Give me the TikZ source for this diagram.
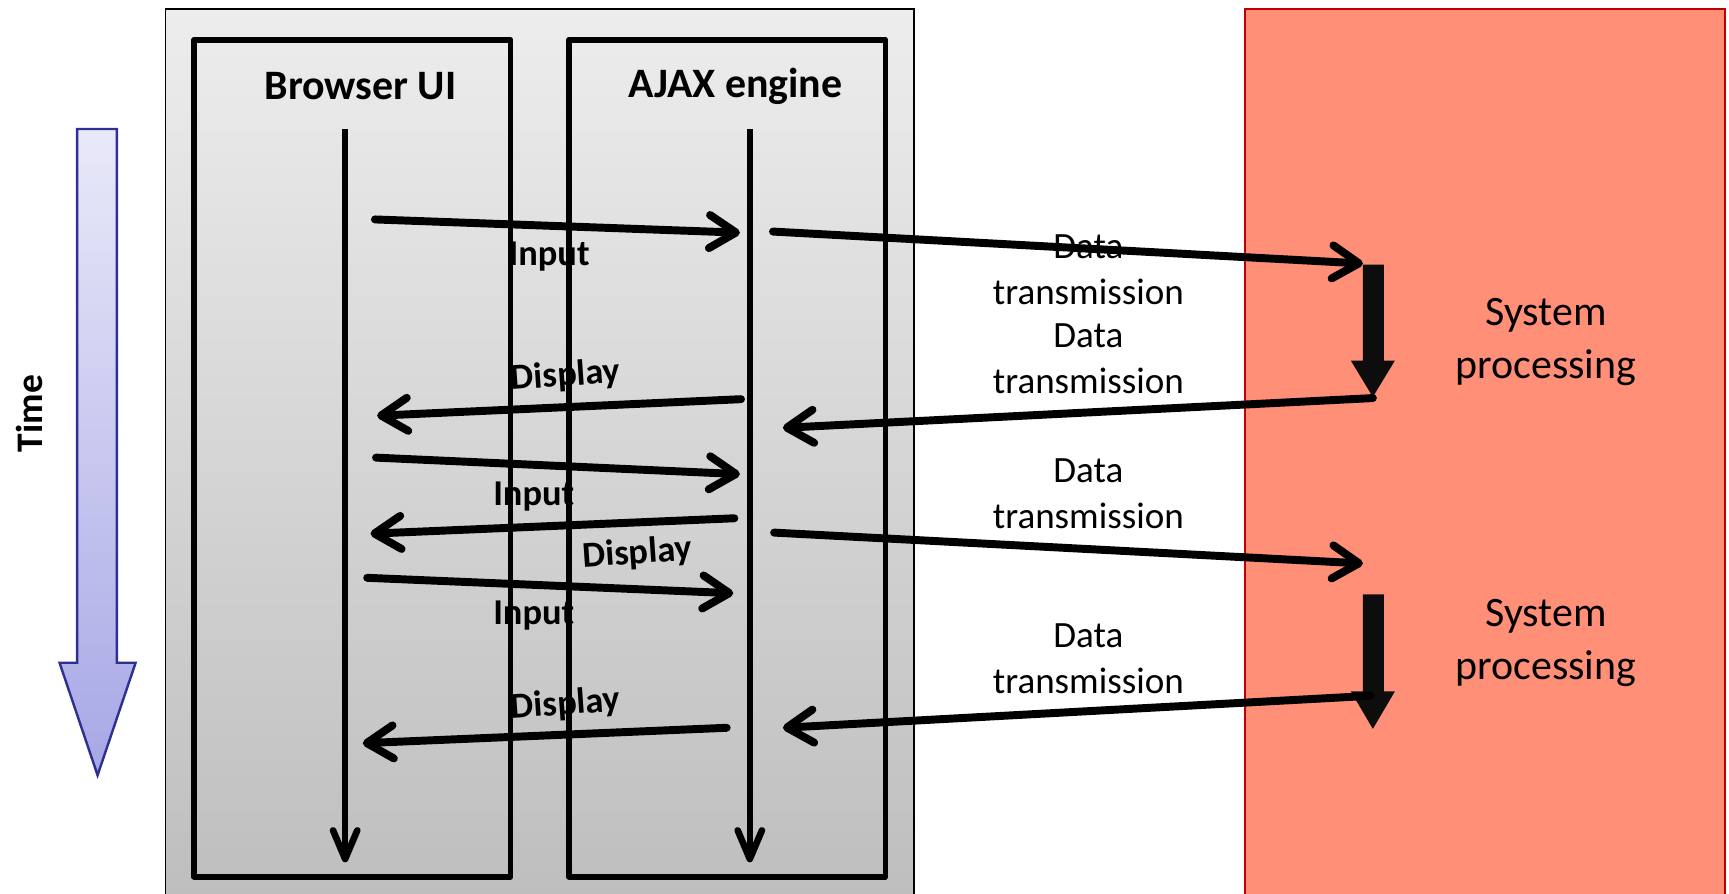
\documentclass[tikz,border=0pt]{standalone}
\usepackage{fontspec}
\setmainfont{Carlito}
\usetikzlibrary{arrows.meta}
\definecolor{boxtop}{HTML}{EDEDED}
\definecolor{boxbot}{HTML}{BDBDBD}
\definecolor{salmon}{HTML}{FF8F76}
\definecolor{darkred}{HTML}{C00000}
\definecolor{timetop}{HTML}{E9E9F9}
\definecolor{timebot}{HTML}{A7A7E6}
\definecolor{timeedge}{HTML}{2E3192}
\begin{document}
\begin{tikzpicture}[x=0.5pt,y=-0.5pt,
  msg/.style={line width=3.6pt, line cap=round, -{Straight Barb[length=12pt,width=15pt,round]}},
  life/.style={line width=3pt, -{Straight Barb[length=13pt,width=11pt,round]}},
  lane/.style={draw, line width=2.6pt, line join=round},
  lbl/.style={font=\bfseries\fontsize{16.5}{20}\selectfont, inner sep=0pt},
  dtl/.style={font=\fontsize{16.8}{21}\selectfont, align=center, inner sep=0pt},
  spl/.style={font=\fontsize{19}{24}\selectfont, align=center, inner sep=0pt},
  ttl/.style={font=\bfseries\fontsize{19}{23}\selectfont, inner sep=0pt},
  blockarrow/.style={fill=black!95, draw=none}
]
\clip (0,0) rectangle (1568,810);
\useasboundingbox (0,0) rectangle (1568,810);

% backgrounds
\draw[line width=0.7pt, top color=boxtop, bottom color=boxbot] (150,8) rectangle (829,830);
\draw[draw=darkred, fill=salmon, line width=0.9pt] (1129,8) rectangle (1564,830);

% time arrow
\draw[timeedge, line width=1.1pt, top color=timetop, bottom color=timebot]
  (70,117) -- (106,117) -- (106,601) -- (123,601) -- (88.5,703) -- (54,601) -- (70,601) -- cycle;
\node[font=\bfseries\fontsize{17}{20}\selectfont, rotate=90, inner sep=0pt] (timelbl) at (27,375) {Time};

% labels (under the lines)
\node[lbl] (in1) at (498,233) {Input};
\node[lbl, rotate=4] (di1) at (513,341) {Display};
\node[lbl] (in2) at (484,450) {Input};
\node[lbl, rotate=4] (di2) at (578,502) {Display};
\node[lbl] (in3) at (484,558) {Input};
\node[lbl, rotate=4] (di3) at (513,639) {Display};

\node[dtl] (dt1l) at (987,244.5) {Data\\transmission};
\node[dtl] (dt2l) at (987,325.5) {Data\\transmission};
\node[dtl] (dt3l) at (987,448) {Data\\transmission};
\node[dtl] (dt4l) at (987,597.5) {Data\\transmission};

\node[spl] (sp1) at (1402,310) {System\\processing};
\node[spl] (sp2) at (1402,583) {System\\processing};

% lanes
\draw[lane] (176,36) rectangle (463,795);
\draw[lane] (516,36) rectangle (803,795);
\node[ttl] (bui) at (327,78) {Browser UI};
\node[ttl] (aeng) at (667,78) {AJAX engine};

% lifelines
\coordinate (bu0) at (313,117); \coordinate (bu1) at (313,782);
\coordinate (aj0) at (680,117); \coordinate (aj1) at (680,782);
\draw[life] (bu0) -- (bu1);
\draw[life] (aj0) -- (aj1);

% system processing block arrows
\fill[blockarrow] (1236,240) -- (1255,240) -- (1255,327) -- (1265,327) -- (1245,360) -- (1225,327) -- (1236,327) -- cycle;
\fill[blockarrow] (1236,539) -- (1255,539) -- (1255,627) -- (1265,627) -- (1245,661) -- (1225,627) -- (1236,627) -- cycle;

% message end points
\coordinate (i1a) at (340,199); \coordinate (i1b) at (671,211);
\coordinate (t1a) at (701,210); \coordinate (t1b) at (1236,239);
\coordinate (d1a) at (672,362); \coordinate (d1b) at (342,377);
\coordinate (t2a) at (1245,361); \coordinate (t2b) at (710,388);
\coordinate (i2a) at (341,415); \coordinate (i2b) at (671,430);
\coordinate (d2a) at (666,470); \coordinate (d2b) at (336,484);
\coordinate (t3a) at (702,483); \coordinate (t3b) at (1236,511);
\coordinate (i3a) at (333,524); \coordinate (i3b) at (665,538);
\coordinate (t4a) at (1243,631); \coordinate (t4b) at (710,660);
\coordinate (d3a) at (659,660); \coordinate (d3b) at (329,674);

\draw[msg] (i1a) -- (i1b);
\draw[msg] (t1a) -- (t1b);
\draw[msg] (d1a) -- (d1b);
\draw[msg] (t2a) -- (t2b);
\draw[msg] (i2a) -- (i2b);
\draw[msg] (d2a) -- (d2b);
\draw[msg] (t3a) -- (t3b);
\draw[msg] (i3a) -- (i3b);
\draw[msg] (t4a) -- (t4b);
\draw[msg] (d3a) -- (d3b);
\end{tikzpicture}
\end{document}
